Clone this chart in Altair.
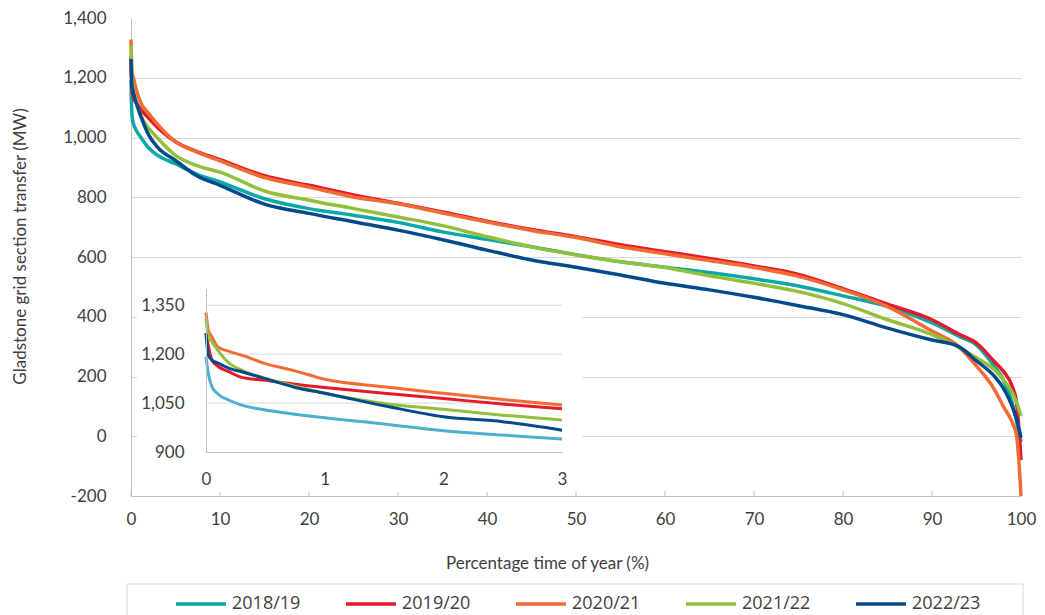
import altair as alt
import pandas as pd

SERIES = ["2018/19", "2019/20", "2020/21", "2021/22", "2022/23"]
COLORS = ["#0AA9A7", "#E4192B", "#F26B35", "#93C03C", "#044A8B"]
INSET_COLORS = ["#4BAFD0", "#E4192B", "#F26B35", "#93C03C", "#044A8B"]

# Main duration curves (percentage time of year vs MW)
X_MAIN = [0, 0.1, 0.3, 0.5, 1, 2, 3, 5, 7.5, 10, 15, 20, 25, 30, 35, 40, 45, 50,
          55, 60, 65, 70, 75, 80, 85, 90, 93, 95, 97, 98, 99, 99.5, 100]
MAIN_1819 = [1192, 1078, 1044, 1029, 1005, 965, 940, 912, 876, 851, 795, 762, 740, 716, 684, 659, 634, 608,
             584, 566, 548, 527, 503, 470, 434, 379, 335, 305, 234, 190, 113, 50, -20]
MAIN_1920 = [1270, 1163, 1129, 1120, 1098, 1064, 1033, 986, 952, 926, 872, 840, 808, 780, 751, 720, 692, 668,
             641, 618, 595, 570, 542, 494, 442, 390, 342, 312, 250, 218, 168, 113, -80]
MAIN_2021 = [1328, 1222, 1197, 1171, 1123, 1080, 1044, 986, 950, 922, 866, 834, 801, 778, 747, 717, 689, 665,
             634, 611, 588, 565, 535, 490, 434, 352, 300, 235, 157, 101, 47, 3, -200]
MAIN_2122 = [1309, 1212, 1151, 1126, 1080, 1031, 998, 940, 905, 884, 821, 790, 762, 734, 705, 668, 634, 607,
             584, 565, 537, 512, 484, 444, 390, 340, 298, 262, 223, 190, 147, 113, 68]
MAIN_2223 = [1263, 1173, 1146, 1125, 1080, 1008, 967, 923, 870, 840, 777, 746, 718, 690, 658, 623, 590, 566,
             540, 512, 490, 465, 437, 407, 362, 322, 300, 252, 201, 162, 101, 57, -5]

# Inset (first 3% of the year)
X_INSET = [0, 0.02, 0.05, 0.1, 0.2, 0.3, 0.5, 0.75, 1, 1.5, 2, 2.5, 3]
INSET_1819 = [1192, 1141, 1100, 1078, 1058, 1044, 1029, 1016, 1005, 986, 965, 952, 940]
INSET_1920 = [1265, 1225, 1182, 1163, 1145, 1129, 1120, 1108, 1098, 1080, 1064, 1047, 1033]
INSET_2021 = [1328, 1273, 1253, 1222, 1208, 1197, 1171, 1149, 1123, 1100, 1080, 1061, 1044]
INSET_2122 = [1309, 1253, 1238, 1212, 1171, 1151, 1126, 1102, 1080, 1049, 1031, 1013, 998]
INSET_2223 = [1263, 1197, 1182, 1173, 1156, 1146, 1125, 1098, 1080, 1042, 1008, 993, 967]

Y_TICKS = [-200, 0, 200, 400, 600, 800, 1000, 1200, 1400]
X_TICKS = [0, 10, 20, 30, 40, 50, 60, 70, 80, 90, 100]
INSET_Y_TICKS = [900, 1050, 1200, 1350]
INSET_GRID = [1050, 1200, 1350]
INSET_X_TICKS = [0, 1, 2, 3]

W, H = 890, 478
FONT = "Lato"
TEXT = "#404040"
GRID = "#D9D9D9"
AXISC = "#BFBFBF"

main_vals = [MAIN_1819, MAIN_1920, MAIN_2021, MAIN_2122, MAIN_2223]
inset_vals = [INSET_1819, INSET_1920, INSET_2021, INSET_2122, INSET_2223]

main_df = pd.DataFrame([
    {"series": s, "x": x, "v": v}
    for s, vals in zip(SERIES, main_vals) for x, v in zip(X_MAIN, vals)
])
inset_df = pd.DataFrame([
    {"series": s, "x": x, "v": v}
    for s, vals in zip(SERIES, inset_vals) for x, v in zip(X_INSET, vals)
])

x_main = alt.Scale(domain=[0, 100], nice=False, zero=False)
y_main = alt.Scale(domain=[-200, 1400], nice=False, zero=False)

main_lines = alt.Chart(main_df).mark_line(
    strokeWidth=3.5, strokeJoin="round", interpolate="monotone"
).encode(
    x=alt.X("x:Q", scale=x_main, axis=alt.Axis(
        values=X_TICKS, grid=False, ticks=False, domainColor=AXISC, domainWidth=1,
        labelPadding=15, labelFlush=False, format="d", title="Percentage time of year (%)",
        titleX=416, titleY=67, titleAlign="center", titleBaseline="middle")),
    y=alt.Y("v:Q", scale=y_main, axis=alt.Axis(
        values=Y_TICKS, grid=True, gridColor=GRID, gridWidth=1, labelFlush=False,
        gridOpacity={"condition": {"test": "datum.value >= 1400", "value": 0}, "value": 1},
        ticks=False, domainColor=AXISC, domainWidth=1, labelPadding=25,
        labelExpr="datum.value < 0 ? '-' + format(-datum.value, ',') : format(datum.value, ',')",
        title="Gladstone grid section transfer (MW)",
        titleX=-111, titleY=228, titleAlign="center", titleBaseline="middle")),
    color=alt.Color("series:N", scale=alt.Scale(domain=SERIES, range=COLORS),
                    legend=alt.Legend(
                        orient="none", legendX=43, legendY=559, direction="horizontal",
                        title=None, symbolType="stroke", symbolSize=2500, symbolStrokeWidth=3.5,
                        labelFont="Open Sans", labelFontSize=18, labelColor=TEXT,
                        columnPadding=38, labelOffset=4, padding=0, labelLimit=200)),
)

main_ticks = alt.Chart(pd.DataFrame({"x": X_TICKS})).mark_rule(color=AXISC, strokeWidth=1).encode(
    x=alt.X("x:Q", scale=x_main),
    y=alt.value(H - 5),
    y2=alt.value(H),
)

legend_box = alt.Chart(alt.Data(values=[{"k": 1}])).mark_rect(
    fill="white", stroke=GRID, strokeWidth=1
).encode(
    x=alt.value(-4), x2=alt.value(892), y=alt.value(566), y2=alt.value(660)
)

main_layer = alt.layer(main_ticks, main_lines, legend_box)

x_in = alt.Scale(domain=[0, 3], range=[75, 431], nice=False, zero=False)
y_in = alt.Scale(domain=[900, 1400], range=[434, 271], nice=False, zero=False)

inset_bg = alt.Chart(alt.Data(values=[{"k": 1}])).mark_rect(fill="white").encode(
    x=alt.value(6), x2=alt.value(451), y=alt.value(271), y2=alt.value(474)
)

inset_lines = alt.Chart(inset_df).mark_line(
    strokeWidth=3, strokeJoin="round", interpolate="monotone"
).encode(
    x=alt.X("x:Q", scale=x_in, axis=alt.Axis(
        orient="bottom", offset=-44, values=INSET_X_TICKS, grid=False, ticks=False,
        domainColor=AXISC, domainWidth=1, labelPadding=19, labelFlush=False,
        format="d", title=None, zindex=2)),
    y=alt.Y("v:Q", scale=y_in, axis=alt.Axis(
        orient="left", offset=-75, values=INSET_Y_TICKS, grid=False, ticks=False,
        domainColor=AXISC, domainWidth=1, labelPadding=22, labelFlush=False,
        format=",.0f", title=None, zindex=2)),
    color=alt.Color("series:N", scale=alt.Scale(domain=SERIES, range=INSET_COLORS), legend=None),
)

inset_grid = alt.Chart(pd.DataFrame({"v": INSET_GRID})).mark_rule(color=GRID, strokeWidth=1).encode(
    y=alt.Y("v:Q", scale=y_in),
    x=alt.datum(0),
    x2=alt.datum(3),
)

inset_layer = alt.layer(inset_bg, inset_grid, inset_lines)

chart = alt.layer(main_layer, inset_layer).resolve_scale(
    x="independent", y="independent", color="independent"
).properties(
    width=W, height=H,
    autosize=alt.AutoSizeParams(type="none"),
    padding={"left": 123, "top": 10, "right": 16, "bottom": 119},
).configure_view(stroke=None).configure_axis(
    labelFont=FONT, labelFontSize=17, labelColor=TEXT,
    titleFont=FONT, titleFontSize=17, titleColor=TEXT, titleFontWeight="normal",
)

chart.save("out.html", embed_options={"renderer": "svg", "actions": False})
